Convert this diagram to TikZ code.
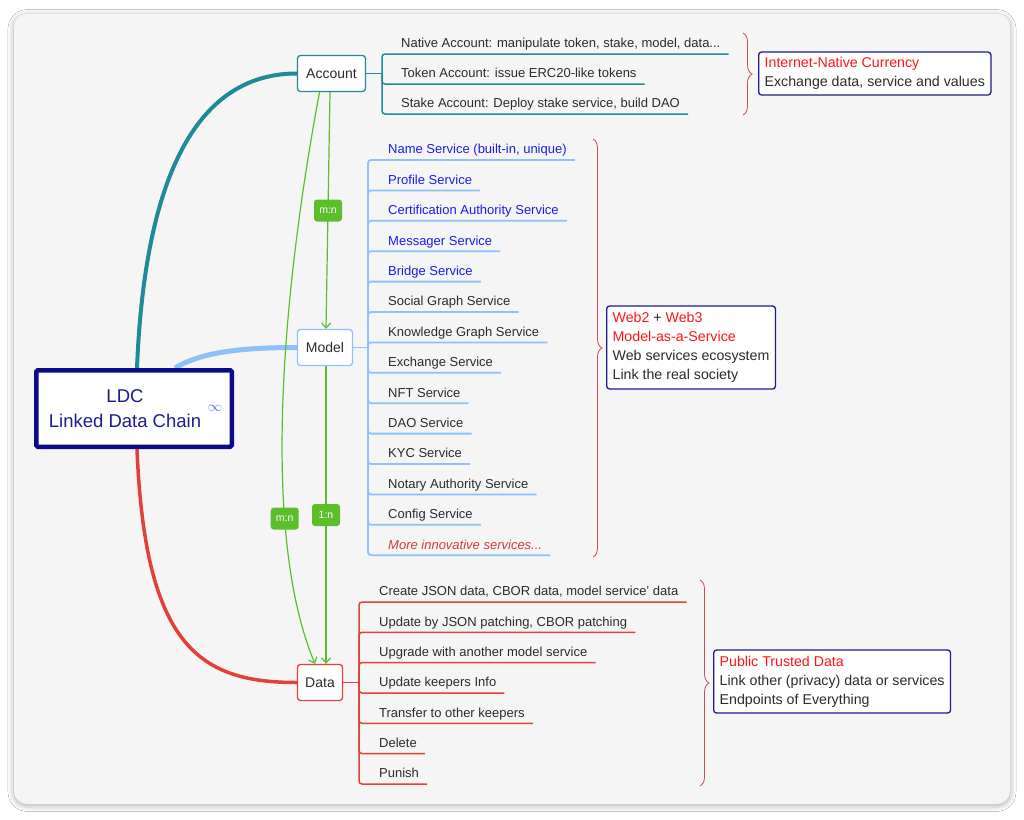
\documentclass[tikz,border=0pt]{standalone}
\usepackage{fontspec}
\setmainfont{Liberation Sans}
\usetikzlibrary{arrows.meta,decorations.pathreplacing,shadows.blur,calc}
\definecolor{tealc}{HTML}{1F8A98}
\definecolor{lblue}{HTML}{8DC1F7}
\definecolor{redc}{HTML}{E2403A}
\definecolor{navy}{HTML}{1C1C8E}
\definecolor{ldcnavy}{HTML}{0B0B8A}
\definecolor{svcblue}{HTML}{1B1BF0}
\definecolor{txt}{HTML}{2B2B2B}
\definecolor{grn}{HTML}{5DBE2B}
\definecolor{brc}{HTML}{C2504E}
\definecolor{card}{HTML}{F5F5F5}
\definecolor{hred}{HTML}{FF1414}
\definecolor{mred}{HTML}{D83A3A}
\definecolor{infc}{HTML}{4A78E0}
\pgfdeclarelayer{bg}
\pgfsetlayers{bg,main}
\begin{document}
\begin{tikzpicture}[x=1pt,y=-1pt,
  topic/.style={draw, rounded corners=3pt, fill=white, line width=1.3pt, font=\fontsize{14}{17}\selectfont, text=txt, inner sep=0pt},
  item/.style={anchor=south west, inner xsep=0pt, inner ysep=6pt, text depth=0pt, font=\fontsize{13}{15}\selectfont, text=txt},
  note/.style={draw=navy, line width=1.3pt, rounded corners=3pt, fill=white, align=left, font=\fontsize{14.2}{19}\selectfont, text=txt, inner xsep=6pt, inner ysep=0pt, anchor=west},
  brst/.style={draw=brc, line width=0.8pt, decorate, decoration={brace, amplitude=9pt}},
  garrow/.style={draw=grn, line width=1.2pt, -{Straight Barb[length=5pt,width=9pt]}},
  lbl/.style={fill=grn, rounded corners=3pt, text=white, font=\fontsize{10.5}{12}\selectfont, minimum width=28pt, minimum height=22pt, inner sep=0pt},
  tline/.style={draw=tealc, line width=1.5pt, rounded corners=3pt},
  bline/.style={draw=lblue, line width=1.8pt, rounded corners=3pt},
  rline/.style={draw=redc, line width=1.5pt, rounded corners=3pt}
]
\useasboundingbox (0,0) rectangle (1024,819);

% central and topic nodes
\node[topic, draw=ldcnavy, line width=4.5pt, rounded corners=1.5pt, minimum width=195.5pt, minimum height=76.5pt,
      font=\fontsize{18.5}{25}\selectfont, text=navy, align=center] (ldc) at (134,408.5)
      {LDC\hspace*{18pt}\\Linked Data Chain\hspace*{18pt}};
\node[text=infc, font=\fontsize{14}{14}\selectfont, inner sep=0pt] (inf) at (215,408) {$\infty$};
\node[topic, draw=tealc, minimum width=68pt, minimum height=36pt] (account) at (331.5,73.5) {Account};
\node[topic, draw=lblue, minimum width=55pt, minimum height=36pt] (model) at (325,347.5) {Model};
\node[topic, draw=redc, minimum width=45pt, minimum height=36pt] (data) at (320,682.5) {Data};

% account items
\node[item] (a1) at (401,54) {Native Account: manipulate token, stake, model, data...};
\node[item] (a2) at (401,84) {Token Account: issue ERC20-like tokens};
\node[item] (a3) at (401,114) {Stake Account: Deploy stake service, build DAO};

% model items
\node[item, text=svcblue] (m1) at (388,160) {Name Service (built-in, unique)};
\node[item, text=svcblue] (m2) at (388,190.4) {Profile Service};
\node[item, text=svcblue] (m3) at (388,220.8) {Certification Authority Service};
\node[item, text=svcblue] (m4) at (388,251.2) {Messager Service};
\node[item, text=svcblue] (m5) at (388,281.6) {Bridge Service};
\node[item] (m6) at (388,312) {Social Graph Service};
\node[item] (m7) at (388,342.4) {Knowledge Graph Service};
\node[item] (m8) at (388,372.8) {Exchange Service};
\node[item] (m9) at (388,403.2) {NFT Service};
\node[item] (m10) at (388,433.6) {DAO Service};
\node[item] (m11) at (388,464) {KYC Service};
\node[item] (m12) at (388,494.4) {Notary Authority Service};
\node[item] (m13) at (388,524.8) {Config Service};
\node[item, text=mred, font=\fontsize{13}{15}\selectfont\itshape] (m14) at (388,555.2) {More innovative services...};

% data items
\node[item] (d1) at (379,602) {Create JSON data, CBOR data, model service' data};
\node[item] (d2) at (379,632.3) {Update by JSON patching, CBOR patching};
\node[item] (d3) at (379,662.6) {Upgrade with another model service};
\node[item] (d4) at (379,693) {Update keepers Info};
\node[item] (d5) at (379,723.3) {Transfer to other keepers};
\node[item] (d6) at (379,753.6) {Delete};
\node[item] (d7) at (379,784) {Punish};

% summary boxes
\node[note, minimum height=43pt] (nacc) at (758,73.5)
  {\textcolor{hred}{Internet-Native Currency}\\Exchange data, service and values};
\node[note, minimum height=83pt] (nmod) at (606,347.5)
  {\textcolor{hred}{Web2} + \textcolor{hred}{Web3}\\\textcolor{hred}{Model-as-a-Service}\\Web services ecosystem\\Link the real society};
\node[note, minimum height=63pt] (ndat) at (713,681.5)
  {\textcolor{hred}{Public Trusted Data}\\Link other (privacy) data or services\\Endpoints of Everything};

\coordinate (at) at (382,73.5);
\coordinate (mt) at (368,347.5);
\coordinate (dt) at (359,682.5);
\coordinate (b1s) at (743,33);  \coordinate (b1e) at (743,115);
\coordinate (b2s) at (593,139); \coordinate (b2e) at (593,557);
\coordinate (b3s) at (700,580); \coordinate (b3e) at (700,786);

\begin{pgfonlayer}{bg}
\fill[white] (0,0) rectangle (1024,819);
\fill[card, rounded corners=13pt, blur shadow={shadow blur radius=6pt, shadow xshift=0pt, shadow yshift=-1.5pt, shadow opacity=35}] (14,14) rectangle (1010,804);

% main connectors
\draw[tealc, line width=4pt] ([xshift=3pt]ldc.north) .. controls +(8,-198) and +(-97,0) .. (account.west);
\draw[lblue, line width=5pt] ([xshift=41pt]ldc.north) .. controls +(25,-15) and +(-60,0) .. (model.west);
\draw[redc, line width=3.5pt] ([xshift=3pt]ldc.south) .. controls +(8,198) and +(-97,0) .. (data.west);

% branches
\draw[tline] (account.east) -- (at);
\foreach \n in {a1,a2,a3} \draw[tline] (at) |- ([xshift=8pt]\n.south east);
\draw[bline] (model.east) -- (mt);
\foreach \n in {m1,m2,m3,m4,m5,m6,m7,m8,m9,m10,m11,m12,m13,m14} \draw[bline] (mt) |- ([xshift=8pt]\n.south east);
\draw[rline] (data.east) -- (dt);
\foreach \n in {d1,d2,d3,d4,d5,d6,d7} \draw[rline] (dt) |- ([xshift=8pt]\n.south east);

% braces
\draw[brst] (b1s) -- (b1e);
\draw[brst] (b2s) -- (b2e);
\draw[brst] (b3s) -- (b3e);

% relations
\draw[garrow] ([xshift=-1.5pt]account.south) -- node[lbl, pos=0.5] {m:n} ([xshift=1pt]model.north);
\draw[garrow] ([xshift=1pt]model.south) -- node[lbl, pos=0.5] {1:n} ([xshift=6pt]data.north);
\draw[garrow] ([xshift=-12pt]account.south) .. controls +(-29.5,158) and +(-60,-144) .. node[lbl, pos=0.72] {m:n} ([xshift=-5pt]data.north);
\end{pgfonlayer}
\end{tikzpicture}
\end{document}
